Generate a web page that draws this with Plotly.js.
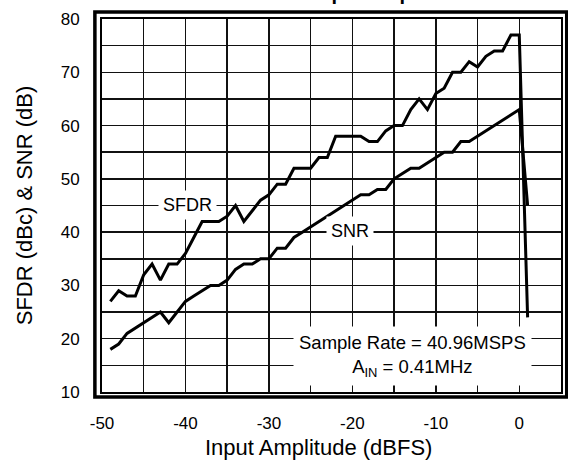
<!DOCTYPE html>
<html>
<head>
<meta charset="utf-8">
<script src="https://cdn.plot.ly/plotly-3.0.1.min.js"></script>
<style>html,body{margin:0;padding:0;background:#fff;}#chart{width:568px;height:468px;}</style>
</head>
<body>
<div id="chart"></div>
<script>
// Input amplitude (dBFS)
const sfdrX = [-49,-48,-47,-46,-45,-44,-43,-42,-41,-40,-39,-38,-37,-36,-35,-34,-33,-32,-31,-30,-29,-28,-27,-26,-25,-24,-23,-22,-21,-20,-19,-18,-17,-16,-15,-14,-13,-12,-11,-10,-9,-8,-7,-6,-5,-4,-3,-2,-1,0,1];
const sfdrY = [27,29,28,28,32,34,31,34,34,36,39,42,42,42,43,45,42,44,46,47,49,49,52,52,52,54,54,58,58,58,58,57,57,59,60,60,63,65,63,66,67,70,70,72,71,73,74,74,77,77,24];
const snrX = [-49,-48,-47,-46,-45,-44,-43,-42,-41,-40,-39,-38,-37,-36,-35,-34,-33,-32,-31,-30,-29,-28,-27,-26,-25,-24,-23,-22,-21,-20,-19,-18,-17,-16,-15,-14,-13,-12,-11,-10,-9,-8,-7,-6,-5,-4,-3,-2,-1,0,1];
const snrY = [18,19,21,22,23,24,25,23,25,27,28,29,30,30,31,33,34,34,35,35,37,37,39,40,41,42,43,44,45,46,47,47,48,48,50,51,52,52,53,54,55,55,57,57,58,59,60,61,62,63,45];
const xTickVals = [-50,-45,-40,-35,-30,-25,-20,-15,-10,-5,0,5];
const xTickText = ['-50','','-40','','-30','','-20','','-10','','0',''];
const yTickVals = [10,15,20,25,30,35,40,45,50,55,60,65,70,75,80];
const yTickText = ['10','','20','','30','','40','','50','','60','','70','','80'];
const labels = {sfdr: 'SFDR', snr: 'SNR', cond1: 'Sample Rate = 40.96MSPS', cond2: 'A<sub>IN</sub> = 0.41MHz'};
const titleText = 'SFDR and SNR vs Input Amplitude';
const xTitle = 'Input Amplitude (dBFS)';
const yTitle = 'SFDR (dBc) & SNR (dB)';

const font = 'Liberation Sans, Arial, sans-serif';
const traces = [
  {x: sfdrX, y: sfdrY, type: 'scatter', mode: 'lines', name: 'SFDR', line: {color: '#000', width: 3}, hoverinfo: 'none'},
  {x: snrX, y: snrY, type: 'scatter', mode: 'lines', name: 'SNR', line: {color: '#000', width: 3}, hoverinfo: 'none'}
];
const gridColor = '#111';
const layout = {
  width: 568, height: 468,
  margin: {l: 102, r: 7, t: 19, b: 76},
  paper_bgcolor: '#fff', plot_bgcolor: '#fff',
  showlegend: false,
  font: {family: font, color: '#000'},
  title: {text: '<b>' + titleText + '</b>', font: {size: 20, family: font}, x: 0.53, xanchor: 'center', y: 0.999, yref: 'container', yanchor: 'bottom'},
  xaxis: {
    range: [-50, 5], tickmode: 'array', tickvals: xTickVals, ticktext: xTickText, ticks: '',
    showgrid: true, gridcolor: gridColor, gridwidth: 1.5,
    zeroline: false, showline: true, mirror: true, linecolor: '#000', linewidth: 2,
    tickfont: {size: 17}, ticklabelstandoff: 15
  },
  yaxis: {
    range: [10, 80], tickmode: 'array', tickvals: yTickVals, ticktext: yTickText, ticks: '',
    showgrid: true, gridcolor: gridColor, gridwidth: 1.5,
    zeroline: false, showline: true, mirror: true, linecolor: '#000', linewidth: 2,
    tickfont: {size: 17}, ticklabelstandoff: 17,
    title: {text: yTitle, font: {size: 22}, standoff: 22}
  },
  shapes: [
    {type: 'rect', xref: 'paper', yref: 'paper', x0: -0.0155, x1: 1.0125, y0: -0.0134, y1: 1.0188, line: {color: '#000', width: 3.5}, layer: 'above'}
  ],
  annotations: [
    {x: 0.4706, y: -0.1475, xref: 'paper', yref: 'paper', text: xTitle, showarrow: false, font: {size: 22}, xanchor: 'center', yanchor: 'middle'},
    {x: -39.7, y: 45.1, xref: 'x', yref: 'y', text: labels.sfdr, showarrow: false, font: {size: 18}, bgcolor: '#fff', borderpad: 4},
    {x: -20.3, y: 40.2, xref: 'x', yref: 'y', text: labels.snr, showarrow: false, font: {size: 18}, bgcolor: '#fff', borderpad: 4},
    {x: -12.8, y: 16.7, xref: 'x', yref: 'y', text: labels.cond1 + '<br>' + labels.cond2, showarrow: false, font: {size: 18.5}, bgcolor: '#fff', borderpad: 5, align: 'center'}
  ]
};
Plotly.newPlot('chart', traces, layout, {staticPlot: true, displayModeBar: false});
</script>
</body>
</html>
